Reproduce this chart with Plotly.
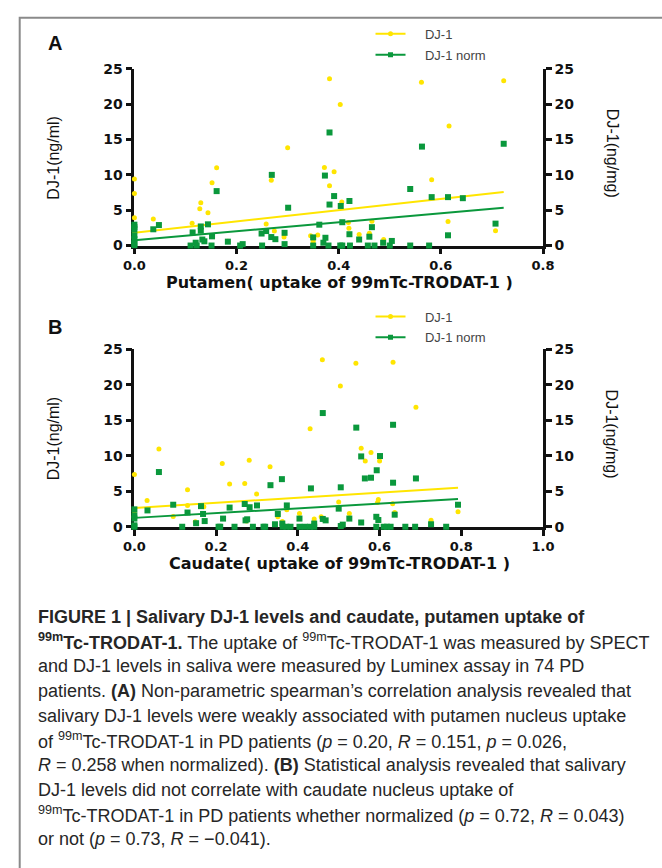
import numpy as np
import plotly.graph_objects as go

# ---------------- data ----------------
# Panel A : Putamen uptake
a_dj1_x = [0, 0, 0, 0, 0, 0, 0.037, 0.113, 0.130, 0.128, 0.144, 0.152, 0.161, 0.183,
           0.258, 0.268, 0.274, 0.293, 0.300, 0.345, 0.350, 0.359, 0.372, 0.382, 0.382,
           0.391, 0.403, 0.406, 0.419, 0.420, 0.440, 0.460, 0.465, 0.488,
           0.562, 0.582, 0.616, 0.614, 0.707, 0.723]
a_dj1_y = [9.4, 7.35, 3.95, 2.0, 1.0, 0.3, 3.75, 3.15, 6.05, 5.2, 4.65, 8.9, 11.0, 0.6,
           3.05, 9.25, 2.05, 1.2, 13.85, 1.4, 0.6, 1.5, 11.05, 23.6, 8.45,
           10.45, 19.95, 6.15, 3.25, 2.45, 1.55, 1.75, 3.45, 0.85,
           23.1, 9.3, 16.9, 3.4, 2.1, 23.3]
a_norm_x = [0, 0, 0, 0, 0, 0, 0, 0.037, 0.048, 0.114, 0.110, 0.120, 0.122, 0.130, 0.133,
            0.137, 0.130, 0.144, 0.152, 0.151, 0.161, 0.183, 0.207, 0.212,
            0.249, 0.250, 0.258, 0.269, 0.268, 0.276, 0.294, 0.294, 0.301,
            0.350, 0.350, 0.362, 0.370, 0.373, 0.374, 0.382, 0.382, 0.380, 0.391, 0.404,
            0.421, 0.407, 0.403, 0.407, 0.421, 0.422, 0.440, 0.460, 0.465, 0.457, 0.470,
            0.487, 0.504, 0.500, 0.540, 0.540, 0.563, 0.577, 0.582, 0.614, 0.614, 0.643,
            0.707, 0.723]
a_norm_y = [2.95, 2.6, 2.3, 1.45, 0.9, 0.3, 0.05, 2.3, 2.9, 1.85, 0, 0.4, 0, 2.1, 0.85,
            0.6, 2.7, 3.0, 1.3, 0, 7.7, 0.55, 0, 0.2,
            1.7, 0, 2.05, 10.0, 1.2, 0.9, 1.8, 0.2, 5.35,
            1.15, 0, 2.95, 0.4, 9.9, 1.1, 16.0, 5.8, 0, 7.0, 5.6,
            6.3, 3.3, 0, 0, 1.6, 0, 0.85, 1.25, 2.6, 0, 0,
            0.4, 0.65, 0, 8.0, 0, 14.0, 0, 6.85, 6.85, 1.45, 6.7,
            3.1, 14.4]
# linear fit parameters (intercept, slope)
a_dj1_fit = [1.8, 8.0]
a_norm_fit = [0.75, 6.35]

# Panel B : Caudate uptake
b_dj1_x = [0, 0, 0.031, 0.060, 0.095, 0.130, 0.130, 0.149, 0.170, 0.215, 0.233, 0.270,
           0.274, 0.281, 0.299, 0.332, 0.351, 0.362, 0.373, 0.404, 0.430, 0.440, 0.460,
           0.457, 0.504, 0.542, 0.633, 0.689, 0.555, 0.579, 0.565, 0.600, 0.500, 0.597,
           0.595, 0.632, 0.637, 0.526, 0.726, 0.792]
b_dj1_y = [7.35, 2.2, 3.7, 10.95, 1.45, 5.2, 3.0, 0.7, 2.8, 8.9, 6.0, 6.1,
           0.8, 9.35, 4.6, 8.45, 1.4, 0.75, 2.4, 1.85, 13.8, 1.1, 23.5,
           1.4, 19.8, 23.0, 23.15, 16.8, 11.05, 10.45, 9.25, 9.25, 3.5, 3.85,
           3.4, 3.25, 2.0, 1.85, 0.9, 2.1]
b_norm_x = [0, 0, 0, 0, 0, 0.032, 0.060, 0.095, 0.117, 0.130, 0.151, 0.168, 0.172, 0.163,
            0.206, 0.210, 0.217, 0.233, 0.245, 0.270, 0.282, 0.272, 0.276, 0.290, 0.300,
            0.316, 0.320, 0.333, 0.344, 0.351, 0.362, 0.361, 0.373, 0.363, 0.372, 0.382,
            0.404, 0.404, 0.417, 0.432, 0.430, 0.440, 0.440, 0.461, 0.461, 0.468,
            0.505, 0.500, 0.505, 0.510, 0.526, 0.543, 0.555, 0.564, 0.579, 0.555, 0.593,
            0.601, 0.592, 0.597, 0.592, 0.610, 0.618, 0.627, 0.633, 0.633, 0.637, 0.663,
            0.687, 0.689, 0.726, 0.763, 0.792]
b_norm_y = [2.45, 1.6, 1.15, 0.2, 0, 2.3, 7.7, 3.1, 0, 2.0, 0.5, 1.8, 0.8, 2.9,
            0, 0, 1.15, 2.7, 0, 3.2, 2.75, 0.9, 1.05, 0, 3.0,
            0, 0, 5.85, 0.35, 1.8, 0.45, 6.7, 3.0, 0, 0, 0,
            1.15, 0, 0, 5.4, 0, 0.45, 0, 16.0, 1.1, 0.9,
            5.55, 2.55, 0.1, 0.3, 1.15, 13.95, 9.9, 6.8, 6.9, 0.6, 7.95,
            9.95, 1.4, 0.95, 0, 0, 0, 0, 14.35, 6.2, 1.7, 0,
            0, 6.8, 0.35, 0, 3.1]
b_dj1_fit = [2.65, 3.6]
b_norm_fit = [1.25, 3.34]

y_ticks = [0, 5, 10, 15, 20, 25]
a_x_ticks = [0.0, 0.2, 0.4, 0.6, 0.8]
b_x_ticks = [0.0, 0.2, 0.4, 0.6, 0.8, 1.0]

legend_names = ["DJ-1", "DJ-1 norm"]

# ---------------- style ----------------
W, H = 662, 868
YEL = "#FFE500"
GRN = "#0A983C"
XTICKF = dict(family="DejaVu Sans", size=13, color="#111", weight="bold")
YTICKF = dict(family="DejaVu Sans", size=14, color="#111", weight="bold")
NBSP = "\u00a0"


def px(x):
    return x / W


def py(y):
    return 1 - y / H


fig = go.Figure()


def fit_line(xs, params):
    xx = np.array([min(xs), max(xs)], dtype=float)
    return xx, params[0] + params[1] * xx


def add_panel(xs_y, ys_y, xs_g, ys_g, fit_y, fit_g, xa, ya_l, ya_r, legend):
    fig.add_trace(go.Scatter(x=xs_y, y=ys_y, mode="markers", xaxis=xa, yaxis=ya_l,
                             marker=dict(symbol="circle", size=5, color=YEL),
                             cliponaxis=False, showlegend=False))
    fig.add_trace(go.Scatter(x=xs_g, y=ys_g, mode="markers", xaxis=xa, yaxis=ya_r,
                             marker=dict(symbol="square", size=6, color=GRN),
                             cliponaxis=False, showlegend=False))
    lx, ly = fit_line(xs_y, fit_y)
    fig.add_trace(go.Scatter(x=lx, y=ly, mode="lines", xaxis=xa, yaxis=ya_l,
                             line=dict(color=YEL, width=2), showlegend=False))
    lx, ly = fit_line(xs_g, fit_g)
    fig.add_trace(go.Scatter(x=lx, y=ly, mode="lines", xaxis=xa, yaxis=ya_r,
                             line=dict(color=GRN, width=2), showlegend=False))
    # legend entries
    fig.add_trace(go.Scatter(x=[None], y=[None], mode="lines+markers",
                             name=NBSP * 4 + legend_names[0],
                             xaxis=xa, yaxis=ya_l, legend=legend, legendgroup=legend + "a",
                             line=dict(color=YEL, width=2),
                             marker=dict(symbol="circle", size=5, color=YEL)))
    fig.add_trace(go.Scatter(x=[None], y=[None], mode="lines+markers",
                             name=NBSP * 4 + legend_names[1],
                             xaxis=xa, yaxis=ya_r, legend=legend, legendgroup=legend + "b",
                             line=dict(color=GRN, width=2),
                             marker=dict(symbol="square", size=5, color=GRN)))


add_panel(a_dj1_x, a_dj1_y, a_norm_x, a_norm_y, a_dj1_fit, a_norm_fit, "x", "y", "y2", "legend")
add_panel(b_dj1_x, b_dj1_y, b_norm_x, b_norm_y, b_dj1_fit, b_norm_fit, "x2", "y3", "y4", "legend2")

X0, X1 = 127, 551
A_TOP, A_BOT = 62, 242
B_TOP, B_BOT = 347.5, 528.5

axis_common = dict(showline=True, linecolor="#111", linewidth=2.5, ticks="outside",
                   ticklen=6, tickwidth=2.5, tickcolor="#111", showgrid=False,
                   zeroline=False, layer="below traces")
xax = dict(axis_common, tickfont=XTICKF, tickformat=".1f")
yax = dict(axis_common, tickfont=YTICKF, range=[0, 25], tickvals=y_ticks)

LEGFONT = dict(family="Liberation Sans", size=13, color="#444")
layout = dict(
    width=W, height=H, margin=dict(l=0, r=0, t=0, b=0),
    paper_bgcolor="white", plot_bgcolor="white", autosize=False,
    xaxis=dict(xax, domain=[px(X0), px(X1)], range=[0, 0.8], tickvals=a_x_ticks, anchor="y"),
    yaxis=dict(yax, domain=[py(A_BOT), py(A_TOP)], anchor="x"),
    yaxis2=dict(yax, domain=[py(A_BOT), py(A_TOP)], overlaying="y", side="right", anchor="x"),
    xaxis2=dict(xax, domain=[px(X0), px(X1)], range=[0, 1.0], tickvals=b_x_ticks, anchor="y3"),
    yaxis3=dict(yax, domain=[py(B_BOT), py(B_TOP)], anchor="x2"),
    yaxis4=dict(yax, domain=[py(B_BOT), py(B_TOP)], overlaying="y3", side="right", anchor="x2"),
    legend=dict(x=px(372), y=py(11), xanchor="left", yanchor="top", bgcolor="rgba(0,0,0,0)",
                font=LEGFONT, itemwidth=30, tracegroupgap=1),
    legend2=dict(x=px(372), y=py(299), xanchor="left", yanchor="top", bgcolor="rgba(0,0,0,0)",
                 font=LEGFONT, itemwidth=30, tracegroupgap=1),
)
fig.update_layout(**layout)

ann = []
TITLEF = dict(family="Liberation Sans", size=16, color="#111")
XTF = dict(family="DejaVu Sans", size=16, color="#111", weight="bold")


def note(x, y, text, font, xanchor="center", yanchor="middle", angle=0):
    ann.append(dict(x=px(x), y=py(y), text=text, showarrow=False, textangle=angle,
                    xref="paper", yref="paper", xanchor=xanchor, yanchor=yanchor, font=font))


for (top, bot, letter, ly, xtitle, xty) in [
        (A_TOP, A_BOT, "A", 36, "Putamen( uptake of 99mTc-TRODAT-1 )", 280),
        (B_TOP, B_BOT, "B", 325, "Caudate( uptake of 99mTc-TRODAT-1 )", 566)]:
    mid = (top + bot) / 2
    note(43, mid, "DJ-1(ng/ml)", TITLEF, angle=-90)
    note(623, mid - 4, "DJ-1(ng/mg)", TITLEF, angle=90)
    note(340, xty, xtitle, XTF)
    note(45, ly, "<b>" + letter + "</b>", dict(family="Liberation Sans", size=20, color="#111"))

caption = [
    "<b>FIGURE 1 | Salivary DJ-1 levels and caudate, putamen uptake of</b>",
    "<b><sup>99m</sup>Tc-TRODAT-1.</b> The uptake of <sup>99m</sup>Tc-TRODAT-1 was measured by SPECT",
    "and DJ-1 levels in saliva were measured by Luminex assay in 74 PD",
    "patients. <b>(A)</b> Non-parametric spearman’s correlation analysis revealed that",
    "salivary DJ-1 levels were weakly associated with putamen nucleus uptake",
    "of <sup>99m</sup>Tc-TRODAT-1 in PD patients (<i>p</i> = 0.20, <i>R</i> = 0.151, <i>p</i> = 0.026,",
    "<i>R</i> = 0.258 when normalized). <b>(B)</b> Statistical analysis revealed that salivary",
    "DJ-1 levels did not correlate with caudate nucleus uptake of",
    "<sup>99m</sup>Tc-TRODAT-1 in PD patients whether normalized (<i>p</i> = 0.72, <i>R</i> = 0.043)",
    "or not (<i>p</i> = 0.73, <i>R</i> = −0.041).",
]
CAPF = dict(family="Liberation Sans", size=18, color="#262626")
for i, line in enumerate(caption):
    note(25, 620 + i * 25.2, line, CAPF, xanchor="left")
fig.update_layout(annotations=ann)

fig.add_shape(type="rect", xref="paper", yref="paper", x0=px(8), y0=py(890), x1=px(700),
              y1=py(10), line=dict(color="#8a8a8a", width=2), fillcolor="rgba(0,0,0,0)")

fig.write_html("out.html", config={"displayModeBar": False},
               post_script="document.body.style.margin='0';document.body.style.overflow='hidden';")
